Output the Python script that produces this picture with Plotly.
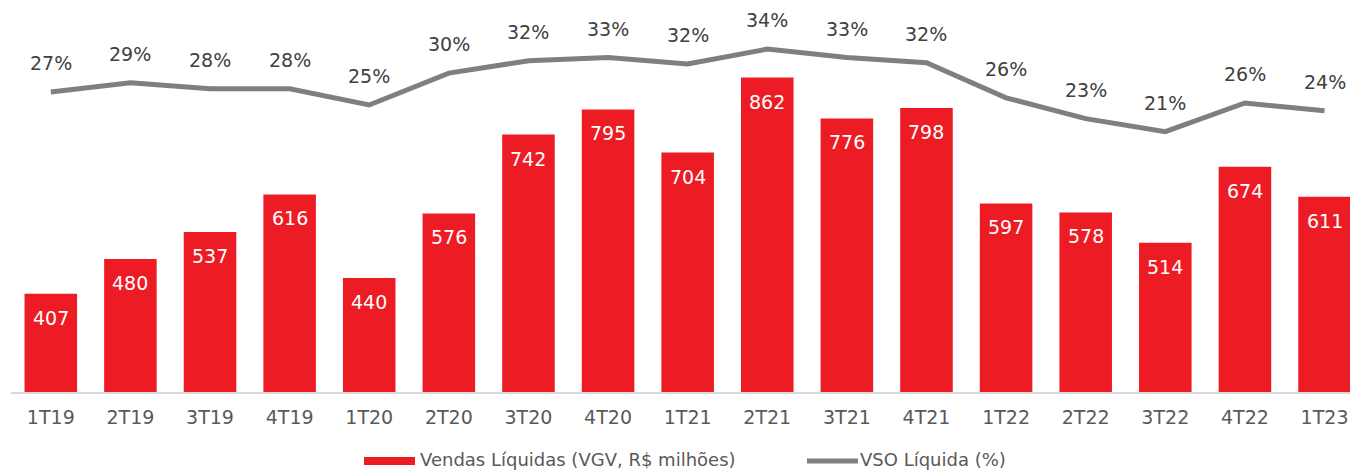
import plotly.graph_objects as go

categories = ["1T19", "2T19", "3T19", "4T19", "1T20", "2T20", "3T20", "4T20", "1T21",
              "2T21", "3T21", "4T21", "1T22", "2T22", "3T22", "4T22", "1T23"]
vendas = [407, 480, 537, 616, 440, 576, 742, 795, 704, 862, 776, 798, 597, 578, 514, 674, 611]
vso = [27.3, 28.7, 27.8, 27.8, 25.3, 30.2, 32.1, 32.6, 31.6, 33.9, 32.6, 31.8, 26.4, 23.2, 21.2, 25.6, 24.4]
vso_labels = [f"{round(v)}%" for v in vso]
series_names = ["Vendas Líquidas (VGV, R$ milhões)", "VSO Líquida (%)"]

RED = "#ED1C24"
GRAY = "#7F7F7F"
FONT = "DejaVu Sans"
FS = 19
LFS = 18

# plot area geometry (pixels) used for the hand-drawn legend
W, H = 1350, 472
ML, MR, MT, MB = 11, 0, 12, 80
PW, PH = W - ML - MR, H - MT - MB


def px(x):
    return (x - ML) / PW


def py(y):
    return (H - MB - y) / PH


fig = go.Figure()
fig.add_trace(go.Bar(
    x=categories, y=vendas, name=series_names[0],
    marker=dict(color=RED, line=dict(width=0)), yaxis="y",
))
fig.add_trace(go.Scatter(
    x=categories, y=vso, name=series_names[1], mode="lines",
    line=dict(color=GRAY, width=5), yaxis="y2",
))

annotations = []
for c, v in zip(categories, vendas):
    annotations.append(dict(x=c, y=v, xref="x", yref="y", text=str(v), showarrow=False,
                            yshift=-24, yanchor="middle",
                            font=dict(family=FONT, size=FS, color="white")))
for c, v, t in zip(categories, vso, vso_labels):
    annotations.append(dict(x=c, y=v, xref="x", yref="y2", text=t, showarrow=False,
                            yshift=29, yanchor="middle",
                            font=dict(family=FONT, size=FS, color="#404040")))

# legend (drawn manually to match swatch sizes)
annotations.append(dict(x=px(419), y=py(471), xref="paper", yref="paper", text=series_names[0],
                        showarrow=False, xanchor="left", yanchor="bottom", borderpad=0,
                        font=dict(family=FONT, size=LFS, color="#595959")))
annotations.append(dict(x=px(859), y=py(471), xref="paper", yref="paper", text=series_names[1],
                        showarrow=False, xanchor="left", yanchor="bottom", borderpad=0,
                        font=dict(family=FONT, size=LFS, color="#595959")))
shapes = [
    dict(type="rect", xref="paper", yref="paper", x0=px(364), x1=px(415), y0=py(465), y1=py(457),
         fillcolor=RED, line=dict(width=0)),
    dict(type="line", xref="paper", yref="paper", x0=px(807), x1=px(858), y0=py(461), y1=py(461),
         line=dict(color=GRAY, width=5)),
]

fig.update_layout(
    width=W, height=H,
    margin=dict(l=ML, r=MR, t=MT, b=MB),
    paper_bgcolor="white", plot_bgcolor="white",
    bargap=0.34,
    font=dict(family=FONT, size=FS, color="#595959"),
    xaxis=dict(range=[-0.5, 16.32], showline=True, linecolor="#D9D9D9", linewidth=2,
               ticks="", showgrid=False, ticklabelstandoff=7,
               tickfont=dict(family=FONT, size=FS, color="#595959")),
    yaxis=dict(range=[200, 1000], visible=False, showgrid=False),
    yaxis2=dict(range=[-18.85, 39.6], overlaying="y", visible=False, showgrid=False),
    showlegend=False,
    annotations=annotations,
    shapes=shapes,
)

fig.write_html("out.html")
